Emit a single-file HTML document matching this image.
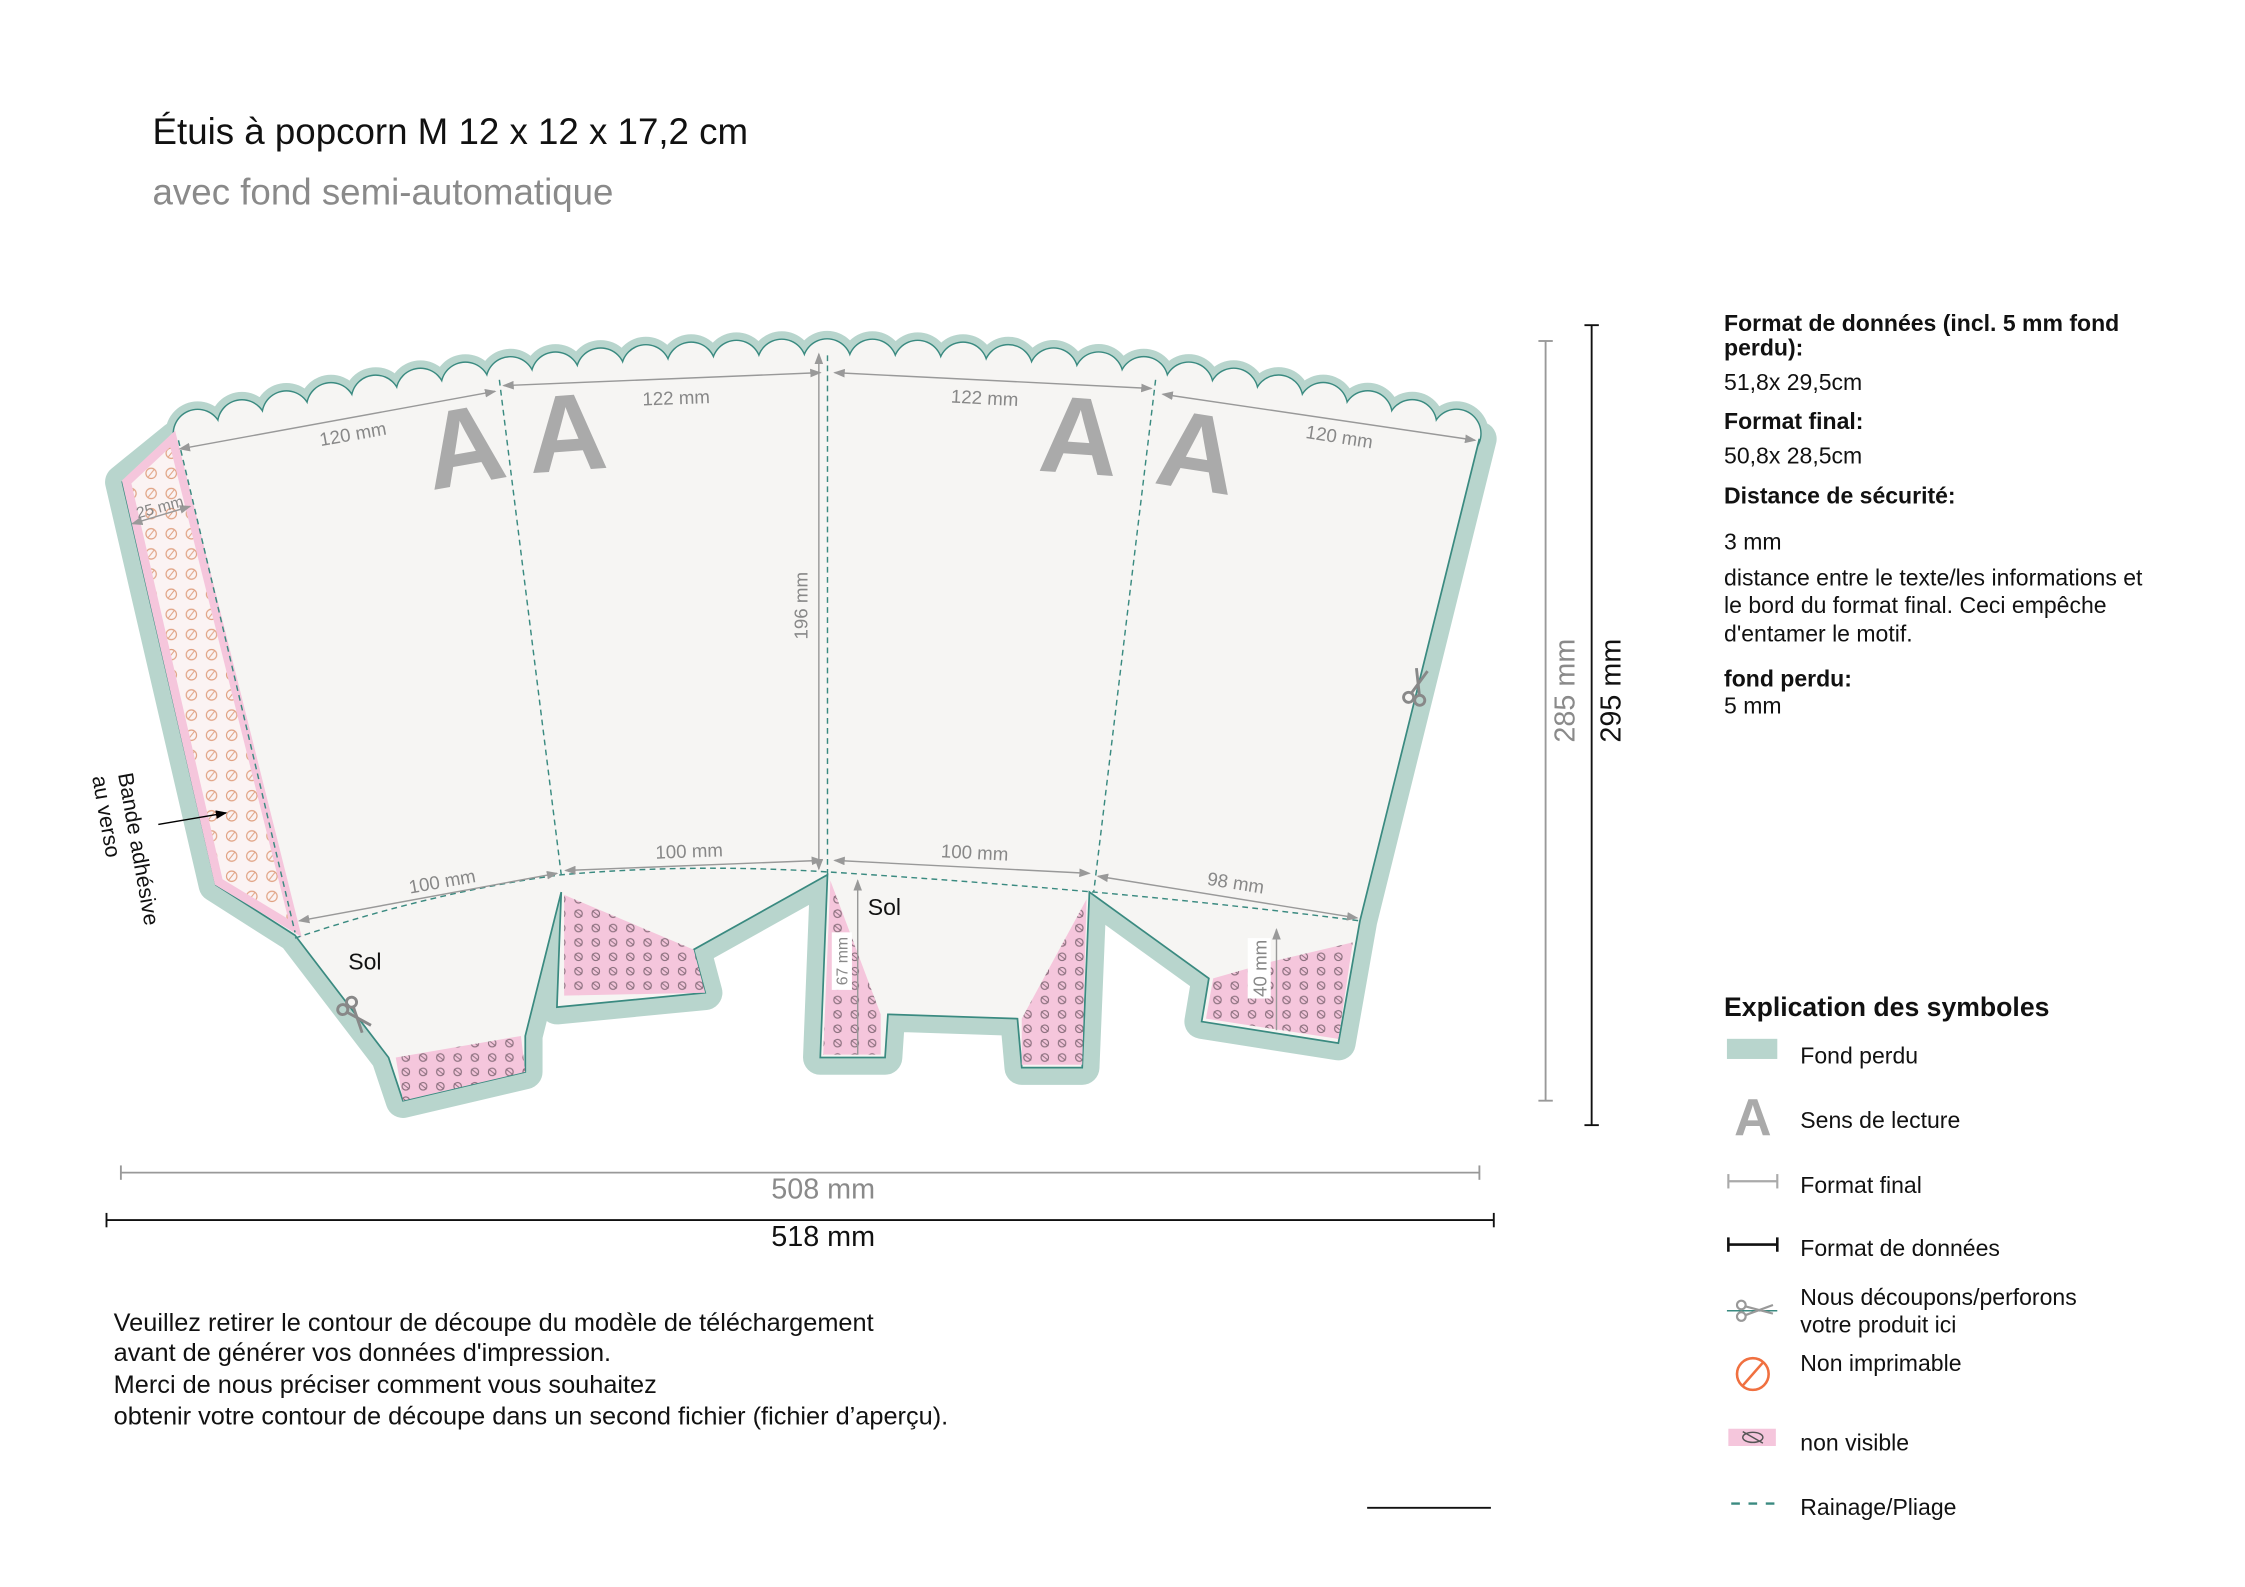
<!DOCTYPE html>
<html><head><meta charset="utf-8"><style>
html,body{margin:0;padding:0;background:#fff;}
svg{display:block;}
text{font-family:"Liberation Sans",sans-serif;}
</style></head><body>
<svg width="2245" height="1587" viewBox="0 0 1560 1103" preserveAspectRatio="none" xmlns="http://www.w3.org/2000/svg">
<defs>
<pattern id="pk" width="12" height="10" patternUnits="userSpaceOnUse">
<rect width="12" height="10" fill="#f5c6dc"/>
<circle cx="6" cy="5" r="2.6" fill="none" stroke="#8a6f7d" stroke-width="0.8"/>
<line x1="3.5" y1="3" x2="8.5" y2="7" stroke="#8a6f7d" stroke-width="0.7"/>
</pattern>
<pattern id="gl" width="14" height="14" patternUnits="userSpaceOnUse">
<rect width="14" height="14" fill="#fbf3f3"/>
<circle cx="7" cy="7" r="3.6" fill="none" stroke="#e0a080" stroke-width="0.8"/>
<line x1="5" y1="9.5" x2="9" y2="4.5" stroke="#e0a080" stroke-width="0.7"/>
</pattern>
<marker id="ar" markerWidth="8" markerHeight="6" refX="7" refY="3" orient="auto-start-reverse" markerUnits="userSpaceOnUse"><path d="M0,0 L8,3 L0,6 Z" fill="#999"/></marker>
<marker id="ak" markerWidth="8" markerHeight="6" refX="7" refY="3" orient="auto" markerUnits="userSpaceOnUse"><path d="M0,0 L8,3 L0,6 Z" fill="#000"/></marker>
</defs>

<text x="106" y="100" font-size="25.5" fill="#111">Étuis à popcorn M 12 x 12 x 17,2 cm</text>
<text x="106" y="142" font-size="25.5" fill="#8a8a8a">avec fond semi-automatique</text>

<!-- bleed -->
<path d="M122,305 Q575,200 1028,305" fill="none" stroke="#b8d5cd" stroke-width="45" stroke-dasharray="0 31.5" stroke-dashoffset="-15.75" stroke-linecap="round"/>
<path d="M122,305 Q575,200 1028,305 L945,640 L930,725 L835,710 L840,680 L757,620 L752,742 L710,742 L707,708 L617,705 L615,735 L570,735 L575,608 L482,660 L490,690 L387,700 L390,620 L365,720 L365,745 L280,765 L270,735 L205,650 L150,615 L85,335 Z" fill="#b8d5cd" stroke="#b8d5cd" stroke-width="24" stroke-linejoin="round"/>
<!-- scallops -->
<path d="M122,305 Q575,200 1028,305" fill="none" stroke="#3a8a80" stroke-width="35" stroke-dasharray="0 31.5" stroke-dashoffset="-15.75" stroke-linecap="round"/>
<path d="M122,305 Q575,200 1028,305" fill="none" stroke="#f6f5f3" stroke-width="33" stroke-dasharray="0 31.5" stroke-dashoffset="-15.75" stroke-linecap="round"/>
<path d="M122,305 Q575,200 1028,305 L945,640 L930,725 L835,710 L840,680 L757,620 L752,742 L710,742 L707,708 L617,705 L615,735 L570,735 L575,608 L482,660 L490,690 L387,700 L390,620 L365,720 L365,745 L280,765 L270,735 L205,650 L150,615 L85,335 Z" fill="#f6f5f3"/>
<path d="M1028,305 L945,640 L930,725 L835,710 L840,680 L757,620 L752,742 L710,742 L707,708 L617,705 L615,735 L570,735 L575,608 L482,660 L490,690 L387,700 L390,620 L365,720 L365,745 L280,765 L270,735 L205,650 L150,615 L85,335 L122,305" fill="none" stroke="#3a8a80" stroke-width="1.2"/>

<!-- pink areas -->
<polygon points="88,335 120,305 205,645 152,613" fill="url(#gl)" stroke="#f5c6dc" stroke-width="6"/>
<polygon points="392,622 482,660 490,690 392,692" fill="url(#pk)"/>
<polygon points="275,735 362,720 365,745 280,765" fill="url(#pk)"/>
<polygon points="577,612 612,705 612,733 572,733" fill="url(#pk)"/>
<polygon points="755,625 752,740 710,740 710,708" fill="url(#pk)"/>
<polygon points="940,655 930,722 838,708 843,680 885,668" fill="url(#pk)"/>

<!-- folds -->
<g fill="none" stroke="#3a8a80" stroke-width="1" stroke-dasharray="4 3">
<line x1="347" y1="264" x2="390" y2="608"/>
<line x1="575" y1="247" x2="575" y2="608"/>
<line x1="803" y1="264" x2="760" y2="620"/>
<line x1="124" y1="306" x2="205" y2="648"/>
<path d="M205,652 Q300,620 390,608 Q480,600 575,606 Q670,612 760,620 Q850,628 945,640"/>
</g>

<!-- dims -->
<g stroke="#999" stroke-width="1" fill="none">
<line x1="125" y1="312" x2="344" y2="272" marker-start="url(#ar)" marker-end="url(#ar)"/>
<line x1="350" y1="268" x2="570" y2="259" marker-start="url(#ar)" marker-end="url(#ar)"/>
<line x1="580" y1="259" x2="800" y2="270" marker-start="url(#ar)" marker-end="url(#ar)"/>
<line x1="808" y1="274" x2="1025" y2="306" marker-start="url(#ar)" marker-end="url(#ar)"/>
<line x1="208" y1="640" x2="387" y2="607" marker-start="url(#ar)" marker-end="url(#ar)"/>
<line x1="393" y1="605" x2="571" y2="598" marker-start="url(#ar)" marker-end="url(#ar)"/>
<line x1="580" y1="598" x2="757" y2="607" marker-start="url(#ar)" marker-end="url(#ar)"/>
<line x1="763" y1="609" x2="943" y2="638" marker-start="url(#ar)" marker-end="url(#ar)"/>
<line x1="569" y1="246" x2="569" y2="604" marker-start="url(#ar)" marker-end="url(#ar)"/>
<line x1="596" y1="612" x2="596" y2="733" marker-start="url(#ar)"/>
<line x1="887" y1="646" x2="887" y2="716" marker-start="url(#ar)"/>
<line x1="92" y1="364" x2="132" y2="352" marker-start="url(#ar)" marker-end="url(#ar)"/>
</g>
<g fill="#888" font-size="13">
<text transform="translate(246,306) rotate(-10)" text-anchor="middle">120 mm</text>
<text transform="translate(470,281) rotate(-2)" text-anchor="middle">122 mm</text>
<text transform="translate(684,281) rotate(3)" text-anchor="middle">122 mm</text>
<text transform="translate(930,308) rotate(9)" text-anchor="middle">120 mm</text>
<text transform="translate(308,617) rotate(-10)" text-anchor="middle">100 mm</text>
<text transform="translate(479,596) rotate(-2)" text-anchor="middle">100 mm</text>
<text transform="translate(677,597) rotate(3)" text-anchor="middle">100 mm</text>
<text transform="translate(858,618) rotate(9)" text-anchor="middle">98 mm</text>
<text transform="translate(561,421) rotate(-90)" text-anchor="middle">196 mm</text>
<text transform="translate(112,356) rotate(-15)" text-anchor="middle" font-size="11">25 mm</text>
<rect x="578" y="648" width="14" height="40" fill="#fff"/>
<text transform="translate(589,668) rotate(-90)" text-anchor="middle" font-size="11">67 mm</text>
<rect x="867" y="652" width="16" height="42" fill="#fff"/>
<text transform="translate(880,673) rotate(-90)" text-anchor="middle" font-size="13">40 mm</text>
</g>

<!-- A letters -->
<g fill="#aaa" font-size="76" font-weight="bold">
<text transform="translate(327,336) rotate(-10)" text-anchor="middle">A</text>
<text transform="translate(396,327) rotate(-4)" text-anchor="middle">A</text>
<text transform="translate(748,329) rotate(4)" text-anchor="middle">A</text>
<text transform="translate(828,340) rotate(9)" text-anchor="middle">A</text>
</g>

<text x="242" y="674" font-size="16" fill="#111">Sol</text>
<text x="603" y="636" font-size="16" fill="#111">Sol</text>
<text transform="translate(82,538) rotate(80)" font-size="15" fill="#111">Bande adhésive</text>
<text transform="translate(64,540) rotate(80)" font-size="15" fill="#111">au verso</text>
<line x1="110" y1="573" x2="157" y2="565" stroke="#000" stroke-width="1" marker-end="url(#ak)"/>

<!-- scissors -->
<g stroke="#888" stroke-width="2" fill="none">
<g transform="translate(247,706) rotate(50)"><circle cx="-9" cy="-4" r="3.5"/><circle cx="-9" cy="4" r="3.5"/><line x1="-6" y1="-3" x2="12" y2="4"/><line x1="-6" y1="3" x2="12" y2="-4"/></g>
<g transform="translate(985,477) rotate(-75)"><circle cx="-9" cy="-4" r="3.5"/><circle cx="-9" cy="4" r="3.5"/><line x1="-6" y1="-3" x2="12" y2="4"/><line x1="-6" y1="3" x2="12" y2="-4"/></g>
</g>

<!-- outer dims -->
<g stroke="#999" stroke-width="1.3">
<line x1="1074" y1="237" x2="1074" y2="765"/><line x1="1069" y1="237" x2="1079" y2="237"/><line x1="1069" y1="765" x2="1079" y2="765"/>
<line x1="84" y1="815" x2="1028" y2="815"/><line x1="84" y1="810" x2="84" y2="820"/><line x1="1028" y1="810" x2="1028" y2="820"/>
</g>
<g stroke="#111" stroke-width="1.3">
<line x1="1106" y1="226" x2="1106" y2="782"/><line x1="1101" y1="226" x2="1111" y2="226"/><line x1="1101" y1="782" x2="1111" y2="782"/>
<line x1="74" y1="848" x2="1038" y2="848"/><line x1="74" y1="843" x2="74" y2="853"/><line x1="1038" y1="843" x2="1038" y2="853"/>
<line x1="950" y1="1048" x2="1036" y2="1048"/>
</g>
<text transform="translate(1094,480) rotate(-90)" text-anchor="middle" font-size="20" fill="#8a8a8a">285 mm</text>
<text transform="translate(1126,480) rotate(-90)" text-anchor="middle" font-size="20" fill="#111">295 mm</text>
<text x="572" y="833" text-anchor="middle" font-size="20" fill="#8a8a8a">508 mm</text>
<text x="572" y="866" text-anchor="middle" font-size="20" fill="#111">518 mm</text>

<g font-size="17.6" fill="#111">
<text x="79" y="925">Veuillez retirer le contour de découpe du modèle de téléchargement</text>
<text x="79" y="946">avant de générer vos données d'impression.</text>
<text x="79" y="968">Merci de nous préciser comment vous souhaitez</text>
<text x="79" y="990">obtenir votre contour de découpe dans un second fichier (fichier d’aperçu).</text>
</g>

<!-- right panel -->
<g font-size="16" fill="#111">
<text x="1198" y="230" font-weight="bold">Format de données (incl. 5 mm fond</text>
<text x="1198" y="247" font-weight="bold">perdu):</text>
<text x="1198" y="271">51,8x 29,5cm</text>
<text x="1198" y="298" font-weight="bold">Format final:</text>
<text x="1198" y="322">50,8x 28,5cm</text>
<text x="1198" y="350" font-weight="bold">Distance de sécurité:</text>
<text x="1198" y="382">3 mm</text>
<text x="1198" y="407">distance entre le texte/les informations et</text>
<text x="1198" y="426">le bord du format final. Ceci empêche</text>
<text x="1198" y="446">d'entamer le motif.</text>
<text x="1198" y="477" font-weight="bold">fond perdu:</text>
<text x="1198" y="496">5 mm</text>
<text x="1198" y="706" font-weight="bold" font-size="18.5">Explication des symboles</text>
<text x="1251" y="739">Fond perdu</text>
<text x="1251" y="784">Sens de lecture</text>
<text x="1251" y="829">Format final</text>
<text x="1251" y="873">Format de données</text>
<text x="1251" y="907">Nous découpons/perforons</text>
<text x="1251" y="926">votre produit ici</text>
<text x="1251" y="953">Non imprimable</text>
<text x="1251" y="1008">non visible</text>
<text x="1251" y="1053">Rainage/Pliage</text>
</g>
<rect x="1200" y="722" width="35" height="14" fill="#b8d5cd"/>
<text x="1218" y="789" text-anchor="middle" font-size="36" font-weight="bold" fill="#aaa">A</text>
<g stroke="#aaa" stroke-width="1.5"><line x1="1201" y1="821" x2="1235" y2="821"/><line x1="1201" y1="816" x2="1201" y2="826"/><line x1="1235" y1="816" x2="1235" y2="826"/></g>
<g stroke="#111" stroke-width="1.8"><line x1="1201" y1="865" x2="1235" y2="865"/><line x1="1201" y1="860" x2="1201" y2="870"/><line x1="1235" y1="860" x2="1235" y2="870"/></g>
<line x1="1200" y1="911" x2="1235" y2="911" stroke="#3a8a80" stroke-width="1"/>
<g stroke="#999" stroke-width="1.5" fill="none"><circle cx="1210" cy="907" r="3"/><circle cx="1210" cy="915" r="3"/><line x1="1213" y1="908" x2="1232" y2="913"/><line x1="1213" y1="914" x2="1232" y2="907"/></g>
<circle cx="1218" cy="955" r="11" fill="none" stroke="#f07040" stroke-width="1.8"/>
<line x1="1211" y1="963" x2="1225" y2="947" stroke="#f07040" stroke-width="1.8"/>
<rect x="1201" y="993" width="33" height="12" fill="#f5c6dc"/>
<ellipse cx="1218" cy="999" rx="7" ry="3.5" fill="none" stroke="#555" stroke-width="1"/>
<line x1="1211" y1="995" x2="1225" y2="1003" stroke="#555" stroke-width="1"/>
<line x1="1203" y1="1045" x2="1235" y2="1045" stroke="#3a8a80" stroke-width="1.6" stroke-dasharray="6 6"/>
</svg>
</body></html>
